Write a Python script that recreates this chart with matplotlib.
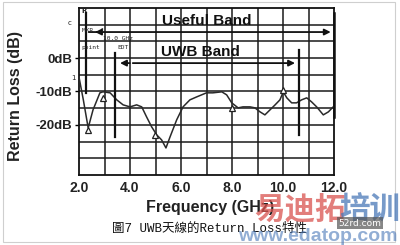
import matplotlib
matplotlib.use("Agg")
import matplotlib.pyplot as plt
from matplotlib.patches import Rectangle

# ---- data ----
freq_ghz = [2.0, 2.17, 2.36, 2.55, 2.82, 2.94, 3.22, 3.48, 3.73, 4.0, 4.26, 4.46,
            4.65, 4.85, 5.05, 5.24, 5.41, 5.57, 5.83, 6.08, 6.35, 6.62, 7.0,
            7.25, 7.6, 7.79, 7.99, 8.24, 8.43, 8.71, 8.9, 9.1, 9.29, 9.49, 9.69,
            9.88, 10.01, 10.15, 10.34, 10.53, 10.73, 10.93, 11.12, 11.32, 11.58,
            11.78, 11.97]
return_loss_db = [-5.7, -12.5, -20.9, -15.5, -10.4, -10.1, -10.4, -12.5, -14.0, -14.6,
                  -14.0, -14.6, -17.6, -20.6, -23.0, -24.5, -26.9, -23.6, -18.5,
                  -14.6, -12.5, -11.6, -10.4, -10.4, -10.1, -11.0, -13.4, -14.9,
                  -14.6, -14.6, -14.9, -16.1, -17.0, -15.5, -14.0, -12.5, -10.1,
                  -11.9, -13.4, -13.4, -12.5, -11.9, -13.1, -14.6, -17.0, -16.1,
                  -14.6]
x_ticks = [2.0, 4.0, 6.0, 8.0, 10.0, 12.0]
x_tick_labels = ["2.0", "4.0", "6.0", "8.0", "10.0", "12.0"]
y_ticks = [0, -10, -20]
y_tick_labels = ["0dB", "-10dB", "-20dB"]
useful_band = [2.27, 12.0]
uwb_band = [3.4, 10.63]
marker_x = [2.36, 2.94, 4.98, 8.0, 10.0]
marker_y = [-21.5, -12.0, -23.0, -14.8, -9.5]

W, H = 400, 245
fig = plt.figure(figsize=(W / 100, H / 100), dpi=100)
fig.patch.set_facecolor("white")

def fx(px):
    return px / W

def fy(py):
    return 1 - py / H

# outer light border
fig.add_artist(Rectangle((fx(3), fy(242)), fx(395) - fx(3), fy(2) - fy(242),
                         transform=fig.transFigure, fill=False,
                         edgecolor="#cfcfcf", lw=0.8))

ax = fig.add_axes([fx(79), fy(175), fx(334) - fx(79), fy(8) - fy(175)])
ax.set_xlim(2, 12)
ax.set_ylim(-35, 15)
for v in range(3, 12):
    ax.axvline(v, color="#1a1a1a", lw=1.1, zorder=1)
for v in range(-30, 15, 5):
    ax.axhline(v, color="#1a1a1a", lw=1.1, zorder=1)
for s in ax.spines.values():
    s.set_color("#111111")
    s.set_linewidth(1.3)

bold = dict(family="Liberation Sans", weight="bold")
ax.set_xticks(x_ticks)
ax.set_xticklabels(x_tick_labels, fontsize=10, color="#222222", **bold)
ax.set_yticks(y_ticks)
ax.set_yticklabels(y_tick_labels, fontsize=9.5, color="#222222", **bold)
ax.tick_params(axis="x", length=0, pad=4)
ax.tick_params(axis="y", length=3, width=1, pad=2)

ax.plot(freq_ghz, return_loss_db, color="#2a2a2a", lw=1.1, zorder=3)
ax.plot(marker_x, marker_y, linestyle="none", marker="^", ms=4,
        mfc="white", mec="#222222", mew=0.9, zorder=4)

# band markers
lc = "#111111"
ax.plot([2.27, 2.27], [13.5, -10.5], color=lc, lw=1.6, zorder=5)
ax.plot([uwb_band[0]] * 2, [1.5, -23.6], color=lc, lw=1.6, zorder=5)
ax.plot([uwb_band[1]] * 2, [2.4, -23.0], color=lc, lw=1.6, zorder=5)
ax.plot([useful_band[1]] * 2, [13.5, -17.6], color=lc, lw=1.8, zorder=5, clip_on=False)

arrow = dict(arrowstyle="-|>", color=lc, lw=1.3, mutation_scale=9)
ax.annotate("", xy=(useful_band[1] - 0.02, 7.8), xytext=(useful_band[0], 7.8),
            arrowprops=arrow, zorder=6)
ax.annotate("", xy=(useful_band[0] + 0.25, 7.8), xytext=(useful_band[0] + 0.6, 7.8),
            arrowprops=arrow, zorder=6)
ax.annotate("", xy=(uwb_band[1] - 0.05, -1.5), xytext=(uwb_band[0] + 0.6, -1.5),
            arrowprops=arrow, zorder=6)
ax.annotate("", xy=(uwb_band[0] + 0.1, -1.5), xytext=(uwb_band[0] + 0.7, -1.5),
            arrowprops=arrow, zorder=6)

ax.text(7.0, 11.1, "Useful Band", ha="center", va="center", fontsize=11,
        color="#111111", **bold, zorder=6)
ax.text(6.75, 1.8, "UWB Band", ha="center", va="center", fontsize=11,
        color="#111111", **bold, zorder=6)

# tiny marker readout text
small = dict(fontsize=4.5, color="#222222", family="DejaVu Sans Mono")
ax.text(2.1, 14.0, "R", fontsize=5, color="#222", weight="bold", va="center")
ax.text(2.1, 8.3, "MKR  1", va="center", zorder=7, **small)
ax.text(2.95, 6.0, "10.0 GHz", va="center", zorder=7, **small)
ax.text(2.1, 3.3, "point", va="center", zorder=7, **small)
ax.text(3.5, 3.3, "EDT", va="center", zorder=7, **small)
fig.text(fx(70), fy(23), "c", fontsize=5, color="#222", ha="center", va="center")
fig.text(fx(73), fy(78), "1", fontsize=5, color="#222", ha="center", va="center")

fig.text(fx(210), fy(207), "Frequency (GHz)", ha="center", va="center",
         fontsize=11.5, color="#222222", **bold)
fig.text(fx(16), fy(96), "Return Loss (dB)", ha="center", va="center",
         rotation=90, fontsize=11.5, color="#222222", **bold)

fig.text(fx(210), fy(229), "圖7 UWB天線的Return Loss特性", ha="center", va="center",
         fontsize=9, color="#111111", family=["Liberation Mono", "Noto Sans CJK TC"])

# watermark
fig.text(fx(300), fy(210), "易迪拓", ha="center", va="center", fontsize=22,
         color="#d9534f", alpha=0.75, weight="bold", family=["Noto Sans CJK SC"])
fig.text(fx(370), fy(210), "培训", ha="center", va="center", fontsize=22,
         color="#4a78b8", alpha=0.75, weight="bold", family=["Noto Sans CJK SC"])
fig.text(fx(318), fy(236), "www.edatop.com", ha="center", va="center", fontsize=14,
         color="#4a78b8", alpha=0.6, weight="bold", family="Liberation Sans")
fig.text(fx(360), fy(223), "52rd.com", ha="center", va="center", fontsize=6.5,
         color="white", family="DejaVu Sans",
         bbox=dict(boxstyle="square,pad=0.2", fc="#555555", ec="none", alpha=0.7))

fig.savefig("out.png", dpi=100)
